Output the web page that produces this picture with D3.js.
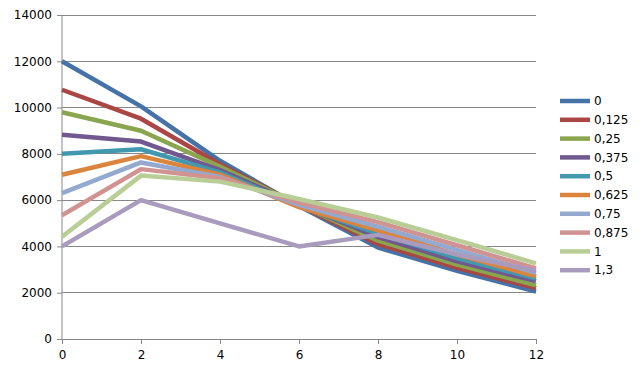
<!DOCTYPE html>
<html>
<head>
<meta charset="utf-8">
<script src="https://cdn.jsdelivr.net/npm/d3@7"></script>
<style>
  body { margin: 0; background: #fff; }
  svg { font-family: "DejaVu Sans", sans-serif; font-size: 12px; }
</style>
</head>
<body>
<svg id="chart" width="643" height="371"></svg>
<script>
// Chart data
const xValues = [0, 2, 4, 6, 8, 10, 12];
const seriesNames = ['0', '0,125', '0,25', '0,375', '0,5', '0,625', '0,75', '0,875', '1', '1,3'];
const s0    = [12000, 10050, 7700, 5750, 3950, 2950, 2050];
const s0125 = [10770, 9520, 7550, 5780, 4100, 3080, 2200];
const s025  = [9800, 9000, 7450, 5800, 4250, 3220, 2320];
const s0375 = [8830, 8530, 7300, 5800, 4400, 3360, 2500];
const s05   = [8000, 8200, 7200, 5750, 4550, 3500, 2610];
const s0625 = [7100, 7900, 7100, 5700, 4700, 3650, 2710];
const s075  = [6300, 7630, 7000, 5800, 4850, 3850, 2860];
const s0875 = [5350, 7340, 6950, 5900, 5050, 4050, 3050];
const s1    = [4420, 7060, 6800, 6050, 5250, 4270, 3270];
const s13   = [4000, 6000, 5000, 4000, 4500, 3650, 2950];
const allSeries = [s0, s0125, s025, s0375, s05, s0625, s075, s0875, s1, s13];
const yTicks = [0, 2000, 4000, 6000, 8000, 10000, 12000, 14000];
const xTicks = [0, 2, 4, 6, 8, 10, 12];

const colors = ['#4572A7', '#AA4643', '#89A54E', '#71588F', '#4198AF',
                '#DB843D', '#93A9CF', '#D19392', '#B9CD96', '#A99BBD'];

const margin = { left: 62, right: 107, top: 15, bottom: 32 };
const width = 643 - margin.left - margin.right;
const height = 371 - margin.top - margin.bottom;

const svg = d3.select('#chart');
const g = svg.append('g').attr('transform', `translate(${margin.left},${margin.top})`);

const xScale = d3.scaleLinear().domain([0, 12]).range([0, width]);
const yScale = d3.scaleLinear().domain([0, 14000]).range([height, 0]);

// Grid lines
g.selectAll('.grid').data(yTicks.slice(1)).enter().append('line')
    .attr('x1', 0).attr('x2', width)
    .attr('y1', d => yScale(d)).attr('y2', d => yScale(d))
    .attr('stroke', '#878787').attr('stroke-width', 1)
    .attr('shape-rendering', 'crispEdges');

// Axes
const yAxis = g.append('g').call(d3.axisLeft(yScale).tickValues(yTicks)
    .tickFormat(d3.format('d')).tickSize(5).tickPadding(5));
const xAxis = g.append('g').attr('transform', `translate(0,${height})`)
    .call(d3.axisBottom(xScale).tickValues(xTicks).tickFormat(d3.format('d')).tickSize(5).tickPadding(6));
[xAxis, yAxis].forEach(a => {
    a.select('.domain').attr('stroke', '#878787');
    a.selectAll('line').attr('stroke', '#878787');
    a.selectAll('text').attr('fill', '#000').style('font-size', '12px')
        .style('font-family', '"DejaVu Sans", sans-serif');
});
yAxis.select('.domain').attr('d', `M0,0V${height}`);

// Lines
const line = d3.line().x((d, i) => xScale(xValues[i])).y(d => yScale(d));
allSeries.forEach((s, i) => {
    g.append('path').datum(s)
        .attr('fill', 'none')
        .attr('stroke', colors[i])
        .attr('stroke-width', 4.5)
        .attr('stroke-linejoin', 'round')
        .attr('d', line);
});

// Legend
const legend = svg.append('g').attr('transform', 'translate(560,101)');
seriesNames.forEach((name, i) => {
    const row = legend.append('g').attr('transform', `translate(0,${i * 18.8})`);
    row.append('line').attr('x1', 0).attr('x2', 30).attr('y1', 0).attr('y2', 0)
        .attr('stroke', colors[i]).attr('stroke-width', 4.5);
    row.append('text').attr('x', 34).attr('y', 0).attr('dy', '0.35em')
        .attr('fill', '#000').text(name);
});
</script>
</body>
</html>
